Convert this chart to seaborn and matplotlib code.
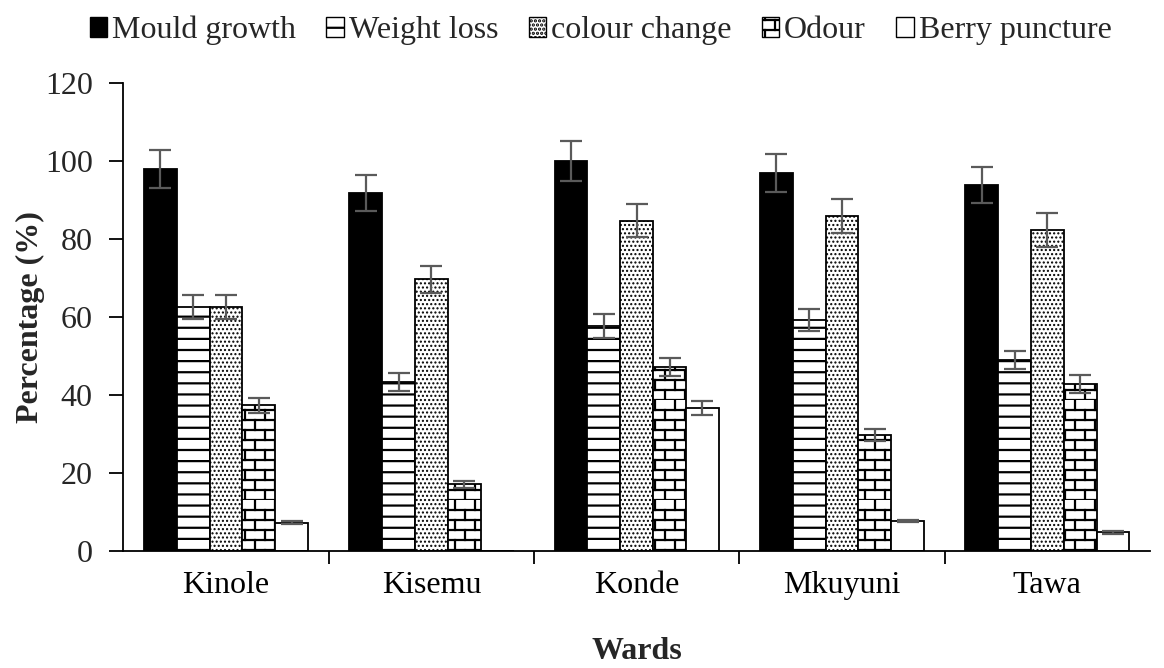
import numpy as np
import pandas as pd
import matplotlib
matplotlib.use("Agg")
import matplotlib.pyplot as plt
import matplotlib.hatch as mhatch
from matplotlib.path import Path
from matplotlib.patches import Patch
import seaborn as sns

# ---------------- data ----------------
wards = ["Kinole", "Kisemu", "Konde", "Mkuyuni", "Tawa"]
attributes = ["Mould growth", "Weight loss", "colour change", "Odour", "Berry puncture"]

mould_growth = [97.9, 91.8, 100.0, 96.9, 93.8]
weight_loss = [62.5, 43.4, 57.7, 59.2, 49.0]
colour_change = [62.5, 69.7, 84.7, 85.9, 82.3]
odour = [37.4, 17.1, 47.2, 29.7, 42.8]
berry_puncture = [7.3, 0.0, 36.6, 7.8, 4.8]

mould_err = [4.9, 4.5, 5.1, 4.9, 4.6]
weight_err = [3.1, 2.3, 3.1, 2.9, 2.4]
colour_err = [3.1, 3.5, 4.3, 4.3, 4.4]
odour_err = [1.9, 0.9, 2.4, 1.6, 2.3]
berry_err = [0.3, 0.0, 1.8, 0.3, 0.3]

values = [mould_growth, weight_loss, colour_change, odour, berry_puncture]
errors = [mould_err, weight_err, colour_err, odour_err, berry_err]

# ---------------- custom hatch patterns ----------------
class DenseHorizontal(mhatch.HatchPatternBase):
    def __init__(self, hatch, density):
        self.num_lines = 9 if "-" in hatch else 0
        self.num_vertices = self.num_lines * 2

    def set_vertices_and_codes(self, vertices, codes):
        steps = (np.arange(self.num_lines) + 0.5) / self.num_lines
        vertices[0::2, 0] = 0.0
        vertices[0::2, 1] = steps
        vertices[1::2, 0] = 1.0
        vertices[1::2, 1] = steps
        codes[0::2] = Path.MOVETO
        codes[1::2] = Path.LINETO


class Brick(mhatch.HatchPatternBase):
    rows = 10
    per_row = 5

    def __init__(self, hatch, density):
        self.on = "+" in hatch
        self.num_vertices = (self.rows * 2 + self.rows * self.per_row * 2) if self.on else 0

    def set_vertices_and_codes(self, vertices, codes):
        n = 0
        for i in range(self.rows):
            y = i / self.rows
            vertices[n] = (0.0, y); codes[n] = Path.MOVETO; n += 1
            vertices[n] = (1.0, y); codes[n] = Path.LINETO; n += 1
        for i in range(self.rows):
            y0 = i / self.rows
            y1 = (i + 1) / self.rows
            shift = 0.5 * (i % 2) + 0.25
            for j in range(self.per_row):
                x = ((j + shift) / self.per_row) % 1.0
                vertices[n] = (x, y0); codes[n] = Path.MOVETO; n += 1
                vertices[n] = (x, y1); codes[n] = Path.LINETO; n += 1


mhatch._hatch_types[:] = [DenseHorizontal, Brick, mhatch.SmallFilledCircles]

# ---------------- styling ----------------
sns.set_theme(style="white")
plt.rcParams["font.family"] = ["Liberation Serif", "DejaVu Serif"]
plt.rcParams["hatch.linewidth"] = 1.6
plt.rcParams["hatch.color"] = "black"

rows = []
for a, vals in zip(attributes, values):
    for w, v in zip(wards, vals):
        rows.append({"Ward": w, "Attribute": a, "Value": v})
df = pd.DataFrame(rows)

colors = {"Mould growth": "black", "Weight loss": "white", "colour change": "white",
          "Odour": "white", "Berry puncture": "white"}
hatches = ["", "-", "....", "+", ""]
hatch_lw = [1.6, 1.6, 1.0, 1.6, 1.6]

fig = plt.figure(figsize=(11.64, 6.68), dpi=100)
ax = fig.add_axes([0.106, 0.175, 0.882, 0.7007])

sns.barplot(data=df, x="Ward", y="Value", hue="Attribute", hue_order=attributes,
            palette=colors, edgecolor="black", linewidth=1.3, errorbar=None,
            width=0.8, ax=ax)

for cont, h, hl, errs in zip(ax.containers, hatches, hatch_lw, errors):
    xs, ys, es = [], [], []
    for bar, e in zip(cont, errs):
        bar.set_hatch(h)
        try:
            bar.set_hatch_linewidth(hl)
        except AttributeError:
            pass
        if e > 0:
            xs.append(bar.get_x() + bar.get_width() / 2)
            ys.append(bar.get_height())
            es.append(e)
    ax.errorbar(xs, ys, yerr=es, fmt="none", ecolor="#5a5a5a", elinewidth=1.6,
                capsize=8, capthick=1.6, zorder=5)

if ax.get_legend() is not None:
    ax.get_legend().remove()

ax.set_ylim(0, 120)
ax.set_yticks(np.arange(0, 121, 20))
ax.set_xlim(-0.5, len(wards) - 0.5)
ax.set_xticks(np.arange(0.5, len(wards) - 0.5, 1.0), minor=True)
ax.tick_params(axis="x", which="major", length=0, labelsize=23, pad=14, colors="black")
ax.tick_params(axis="x", which="minor", length=9, width=1.3, direction="out", color="black", bottom=True)
ax.tick_params(axis="y", which="major", length=10, width=1.3, direction="out", labelsize=23,
               color="black", left=True, pad=12)

for s in ["top", "right"]:
    ax.spines[s].set_visible(False)
for s in ["left", "bottom"]:
    ax.spines[s].set_color("black")
    ax.spines[s].set_linewidth(1.3)

ax.set_xlabel("Wards", fontsize=23, fontweight="bold", labelpad=27)
ax.set_ylabel("Percentage (%)", fontsize=23, fontweight="bold", labelpad=0)

handles = [Patch(facecolor=colors[a], edgecolor="black", hatch=h, linewidth=1.0)
           for a, h in zip(attributes, hatches)]
fig.legend(handles, attributes, loc="upper center", bbox_to_anchor=(0.516, 1.005),
           ncol=5, frameon=False, fontsize=23, handlelength=0.55, handleheight=0.6,
           handletextpad=0.15, columnspacing=0.95, borderaxespad=0.2)

fig.savefig("out.png", dpi=100, facecolor="white")
